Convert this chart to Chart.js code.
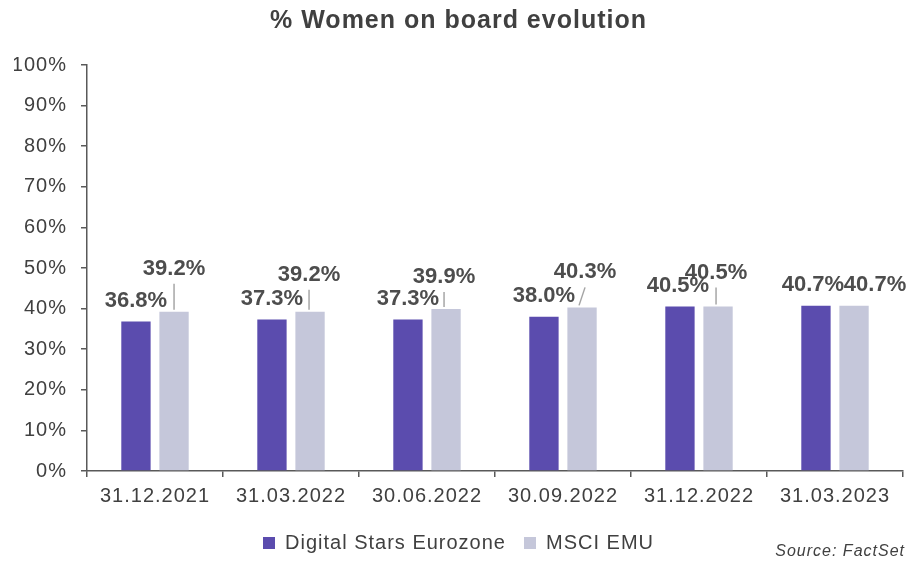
<!DOCTYPE html>
<html>
<head>
<meta charset="utf-8">
<script src="https://cdn.jsdelivr.net/npm/chart.js@4"></script>
<style>
  html, body { margin: 0; padding: 0; background: #fff; }
  #wrap { position: relative; width: 910px; height: 561px; }
  #source {
    position: absolute; right: 5px; top: 542px; letter-spacing: 1px;
    font: italic 16px "Liberation Sans", Arial, sans-serif; color: #404040;
  }
</style>
</head>
<body>
<div id="wrap">
  <canvas id="boardChart" width="910" height="561"></canvas>
  <div id="source">Source: FactSet</div>
</div>
<script>
const categories = ["31.12.2021", "31.03.2022", "30.06.2022", "30.09.2022", "31.12.2022", "31.03.2023"];
const digitalStars = [36.8, 37.3, 37.3, 38.0, 40.5, 40.7];
const msciEmu = [39.2, 39.2, 39.9, 40.3, 40.5, 40.7];
const yTicks = [0, 10, 20, 30, 40, 50, 60, 70, 80, 90, 100];

const FONT = "'Liberation Sans', Arial, sans-serif";

/* label placement, hand tuned like the original callouts */
const labelStyle = [
  { dx: [0, 0, 0, 0, -2, -3], dy: [21, 21, 21, 21, 21, 21], leader: [false, false, false, false, false, false] },
  { dx: [0, -1, -2, 3, -2, 21], dy: [43, 37, 32, 35, 34, 21], leader: [true, true, true, true, true, false] }
];

// the original text is spaced out a bit wider than the plain font
const spacing = {
  id: "spacing",
  beforeLayout(chart) { chart.ctx.letterSpacing = "1px"; },
  beforeDraw(chart) { chart.ctx.letterSpacing = "1px"; }
};

const barLabels = {
  id: "barLabels",
  afterDatasetsDraw(chart) {
    const ctx = chart.ctx;
    ctx.save();
    ctx.letterSpacing = "0px";
    ctx.font = "bold 22px " + FONT;
    ctx.textAlign = "center";
    ctx.textBaseline = "middle";
    chart.data.datasets.forEach((ds, i) => {
      const st = labelStyle[i];
      chart.getDatasetMeta(i).data.forEach((bar, j) => {
        const x = bar.x + st.dx[j];
        const y = bar.y - st.dy[j];
        if (st.leader[j]) {
          ctx.strokeStyle = "#a6a6a6";
          ctx.lineWidth = 1.5;
          ctx.beginPath();
          ctx.moveTo(x, y + 15);
          ctx.lineTo(bar.x + (st.dx[j] > 1 ? -3 : st.dx[j]), bar.y - 2);
          ctx.stroke();
        }
        ctx.fillStyle = "#4d4d4d";
        ctx.fillText(ds.data[j].toFixed(1) + "%", x, y);
      });
    });
    ctx.restore();
  }
};

new Chart(document.getElementById("boardChart"), {
  type: "bar",
  data: {
    labels: categories,
    datasets: [
      { label: "Digital Stars Eurozone", data: digitalStars, backgroundColor: "#5b4cae" },
      { label: "MSCI EMU", data: msciEmu, backgroundColor: "#c5c7da" }
    ]
  },
  options: {
    responsive: false,
    animation: false,
    layout: { padding: { top: 6, right: 7, bottom: -2, left: 14 } },
    datasets: { bar: { categoryPercentage: 0.56, barPercentage: 0.77 } },
    plugins: {
      title: {
        display: true,
        text: "% Women on board evolution",
        color: "#404040",
        font: { family: FONT, size: 25, weight: "bold" },
        padding: { top: 0, bottom: 29 }
      },
      legend: {
        position: "bottom",
        labels: {
          boxWidth: 12, boxHeight: 12, padding: 18,
          color: "#404040",
          font: { family: FONT, size: 20 }
        }
      },
      tooltip: { enabled: false }
    },
    scales: {
      x: {
        grid: { display: true, offset: true, drawOnChartArea: false, drawTicks: true, tickLength: 6, color: "#595959", lineWidth: 1.5 },
        border: { color: "#595959", width: 1.5 },
        ticks: { color: "#404040", padding: 7, font: { family: FONT, size: 20 } }
      },
      y: {
        min: 0, max: 100,
        afterBuildTicks: s => { s.ticks = yTicks.map(v => ({ value: v })); },
        afterFit: s => { s.width = 73; },
        grid: { display: true, drawOnChartArea: false, drawTicks: true, tickLength: 6, color: "#595959", lineWidth: 1.5 },
        border: { color: "#595959", width: 1.5 },
        ticks: {
          color: "#404040", padding: 14,
          font: { family: FONT, size: 20 },
          callback: v => v + "%"
        }
      }
    }
  },
  plugins: [spacing, barLabels]
});
</script>
</body>
</html>
